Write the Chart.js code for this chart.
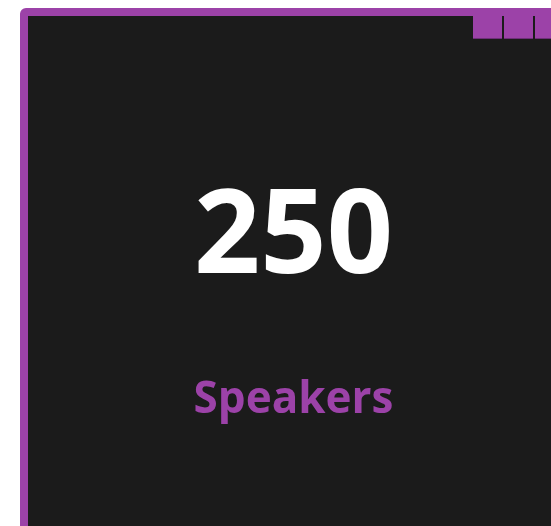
<!DOCTYPE html>
<html>
<head>
<meta charset="utf-8">
<script src="https://cdn.jsdelivr.net/npm/chart.js@4/dist/chart.umd.min.js"></script>
<style>
  html, body { margin: 0; padding: 0; background: #fff; }
  body { width: 551px; height: 526px; position: relative; overflow: hidden; }
  .card {
    position: absolute; left: 20px; top: 8px;
    width: 560px; height: 560px;
    border: 8px solid #9c42a8; border-radius: 6px;
    background: #1b1b1b;
  }
  .tab {
    position: absolute; top: 16px; width: 29px; height: 22px;
    background: #9c42a8; border-bottom: 1px solid #6e2f78;
  }
  #wrap { position: absolute; left: 0; top: 0; width: 551px; height: 526px; }
</style>
</head>
<body>
<div class="card"></div>
<div class="tab" style="left:473px"></div>
<div class="tab" style="left:504px"></div>
<div class="tab" style="left:535px"></div>
<div id="wrap"><canvas id="kpiChart"></canvas></div>
<script>
// KPI values
const labels = ['Speakers'];
const values = [250];

const purple = '#9c42a8';

const ctx = document.getElementById('kpiChart');
const kpiChart = new Chart(ctx, {
    type: 'bar',
    data: {
        labels: labels,
        datasets: [{
            label: labels[0],
            data: values,
            hidden: true
        }]
    },
    options: {
        responsive: true,
        maintainAspectRatio: false,
        animation: false,
        layout: {
            padding: { left: 36, right: 0, top: 170, bottom: 0 }
        },
        scales: {
            x: { display: false },
            y: { display: false }
        },
        plugins: {
            legend: { display: false },
            tooltip: { enabled: false },
            title: {
                display: true,
                text: String(values[0]),
                color: '#ffffff',
                font: { family: 'Open Sans', weight: 'bold', size: 116, lineHeight: 1.2 },
                padding: { top: 0, bottom: 65 }
            },
            subtitle: {
                display: true,
                text: labels[0],
                color: purple,
                font: { family: 'Open Sans', weight: 'bold', size: 44, lineHeight: 1.2 },
                padding: { top: 0, bottom: 0 }
            }
        }
    }
});
</script>
</body>
</html>
